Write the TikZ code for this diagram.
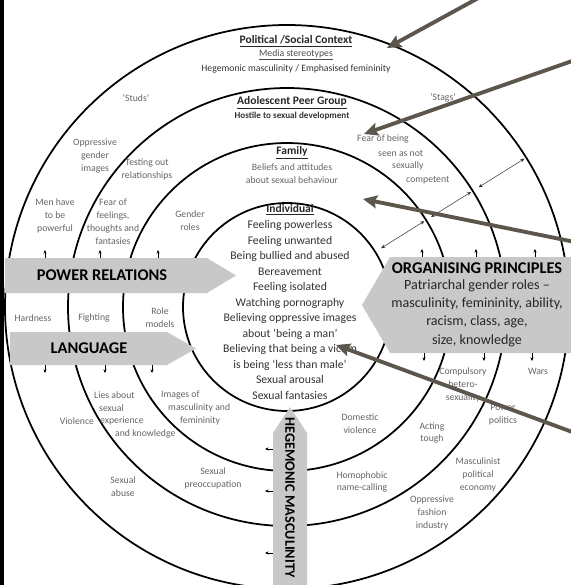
\documentclass[tikz,border=0pt]{standalone}
\usepackage{fontspec}
\setmainfont{Carlito}
\usepackage{tikz}
\usetikzlibrary{arrows.meta,calc}

\begin{document}
\begin{tikzpicture}[x=0.03cm, y=-0.03cm]

  % Define Colors
  \definecolor{bandgrey}{RGB}{200,200,200}
  \definecolor{labelgrey}{RGB}{100,100,100}
  \definecolor{listgrey}{RGB}{50,50,50}
  \definecolor{pointer}{RGB}{92,86,76}

  % Styles
  \tikzstyle{ring}=[line width=1.5pt, black]
  \tikzstyle{band}=[fill=bandgrey, draw=none]
  \tikzstyle{lbl}=[text=labelgrey, align=center, inner sep=0pt, font=\fontsize{8.3}{11}\selectfont]
  \tikzstyle{ttl}=[text=black!85, align=center, inner sep=0pt, font=\bfseries\fontsize{9.8}{12}\selectfont]
  \tikzstyle{indtxt}=[text=listgrey, align=center, inner sep=0pt, font=\fontsize{10}{13.2}\selectfont]
  \tikzstyle{bandtxt}=[text=black, align=center, inner sep=0pt, font=\bfseries\fontsize{14}{16}\selectfont]
  \tikzstyle{orgtxt}=[text=black!85, align=center, inner sep=0pt, font=\fontsize{12}{15.6}\selectfont]
  \tikzstyle{tick}=[line width=0.5pt, -{Stealth[length=3pt,width=2.6pt]}]
  \tikzstyle{gap}=[line width=0.45pt, black!80, {Stealth[length=3.5pt,width=3pt]}-{Stealth[length=3.5pt,width=3pt]}]
  \tikzstyle{pointer_path}=[line width=3.3pt, pointer, -{Stealth[length=12pt,width=11pt,inset=2pt]}]

  \useasboundingbox (0,0) rectangle (571,585);
  \fill[black] (0,0) rectangle (4,585);

  % Rings
  \coordinate (ctr) at (287,307);
  \draw[ring] (ctr) circle[radius=104];
  \draw[ring] (ctr) circle[radius=164];
  \draw[ring] (ctr) circle[radius=219];
  \draw[ring] (ctr) circle[radius=282];

  % Bands
  \fill[band] (5,258) -- (207,258) -- (236,275.5) -- (207,293) -- (5,293) -- cycle;
  \node[bandtxt] (powrel) at (102,275.5) {POWER RELATIONS};

  \fill[band] (10,332) -- (167,332) -- (196,348.5) -- (167,365) -- (10,365) -- cycle;
  \node[bandtxt] (lang) at (89,348.5) {LANGUAGE};

  \fill[band] (571,257) -- (390,257) -- (362,305) -- (390,353) -- (571,353) -- cycle;
  \node[bandtxt] (orgpr) at (477,268) {ORGANISING PRINCIPLES};
  \node[orgtxt] (patri) at (477,313) {Patriarchal gender roles --\\masculinity, femininity, ability,\\racism, class, age,\\size, knowledge};

  \fill[band] (273,595) -- (273,433) -- (290,407) -- (307,433) -- (307,595) -- cycle;
  \node[bandtxt, font=\bfseries\fontsize{12.2}{15}\selectfont, rotate=-90, anchor=west] (hegmasc) at (290,417) {HEGEMONIC MASCULINITY};

  % Ring titles
  \node[ttl] (pol) at (296,41) {\underline{Political /Social Context}};
  \node[lbl, text=black!70] (media) at (296,55) {\underline{Media stereotypes}};
  \node[lbl, text=black!80] (hegem) at (296,69) {Hegemonic masculinity / Emphasised femininity};
  \node[lbl] (studs) at (136,98) {`Studs'};
  \node[lbl] (stags) at (443,98) {`Stags'};

  \node[ttl] (adol) at (292,103) {\underline{Adolescent Peer Group}};
  \node[lbl, font=\bfseries\fontsize{7.8}{10}\selectfont, text=black!80] (hostile) at (292,116) {Hostile to sexual development};

  \node[ttl] (fam) at (292,153) {\underline{Family}};
  \node[lbl] (beliefs) at (292,174) {Beliefs and attitudes\\about sexual behaviour};

  \node[ttl] (ind) at (290,210) {\underline{Individual}};
  \node[indtxt] (indlist) at (290,310) {Feeling powerless\\Feeling unwanted\\Being bullied and abused\\Bereavement\\Feeling isolated\\Watching pornography\\Believing oppressive images\\about `being a man'\\Believing that being a victim\\is being `less than male'\\Sexual arousal\\Sexual fantasies};

  % Left labels
  \node[lbl] (oppgen) at (95,156) {Oppressive\\gender\\images};
  \node[lbl] (testing) at (147,169) {Testing out\\relationships};
  \node[lbl] (menhave) at (55,216) {Men have\\to be\\powerful};
  \node[lbl] (fearfeel) at (113,222) {Fear of\\feelings,\\thoughts and\\fantasies};
  \node[lbl] (gender) at (190,221) {Gender\\roles};
  \node[lbl] (hardness) at (33,318) {Hardness};
  \node[lbl] (fighting) at (94,318) {Fighting};
  \node[lbl] (rolemod) at (160,318) {Role\\models};
  \node[lbl, anchor=west] (lies1) at (94,395) {Lies about};
  \node[lbl, anchor=west] (lies2) at (99,408) {sexual};
  \node[lbl, anchor=west] (lies3) at (100,421) {experience};
  \node[lbl, anchor=west] (lies4) at (115,434) {and knowledge};
  \node[lbl] (violence) at (77,421) {Violence};
  \node[lbl, anchor=west] (img1) at (161,395) {Images of};
  \node[lbl, anchor=west] (img2) at (168,408) {masculinity and};
  \node[lbl, anchor=west] (img3) at (180,421) {femininity};
  \node[lbl] (sexabuse) at (123,487) {Sexual\\abuse};
  \node[lbl] (sexpre) at (213,478) {Sexual\\preoccupation};

  % Right labels
  \node[lbl, anchor=west] (fear1) at (357,139) {Fear of being};
  \node[lbl, anchor=west] (fear2) at (378,153) {seen as not};
  \node[lbl, anchor=west] (fear3) at (392,166) {sexually};
  \node[lbl, anchor=west] (fear4) at (406,180) {competent};
  \node[lbl] (compuls) at (463,385) {Compulsory\\hetero-\\sexuality};
  \node[lbl] (wars) at (538,371) {Wars};
  \node[lbl] (domestic) at (360,424) {Domestic\\violence};
  \node[lbl] (acting) at (432,433) {Acting\\tough};
  \node[lbl] (powpol) at (503,415) {Power\\politics};
  \node[lbl] (mascpol) at (478,475) {Masculinist\\political\\economy};
  \node[lbl] (homoph) at (362,482) {Homophobic\\name-calling};
  \node[lbl] (fashion) at (432,513) {Oppressive\\fashion\\industry};

  % Small ticks off the bands
  \foreach \x in {45,100,158} \draw[tick] (\x,258) -- (\x,250);
  \foreach \x in {45,105,152} \draw[tick] (\x,365) -- (\x,373);
  \foreach \x in {422,476,535} \draw[tick] (\x,257) -- (\x,249);
  \foreach \x in {424,484,532} \draw[tick] (\x,353) -- (\x,361);
  \foreach \y in {449,491,553} \draw[tick] (273,\y) -- (265,\y);

  % Gaps between rings
  \coordinate (g1a) at ($(ctr)+(-32:111)$);
  \coordinate (g1b) at ($(ctr)+(-32:162)$);
  \coordinate (g2a) at ($(ctr)+(-32:170)$);
  \coordinate (g2b) at ($(ctr)+(-32:217)$);
  \coordinate (g3a) at ($(ctr)+(-32:226)$);
  \coordinate (g3b) at ($(ctr)+(-32:280)$);
  \draw[gap] (g1a) -- (g1b);
  \draw[gap] (g2a) -- (g2b);
  \draw[gap] (g3a) -- (g3b);

  % Pointers
  \coordinate (p1from) at (482,-4);
  \coordinate (p1to) at (387,48);
  \coordinate (p2from) at (575,60);
  \coordinate (p2to) at (364,134);
  \coordinate (p3from) at (575,242);
  \coordinate (p3to) at (363,199);
  \coordinate (p4from) at (575,433);
  \coordinate (p4to) at (336,345);
  \draw[pointer_path] (p1from) -- (p1to);
  \draw[pointer_path] (p2from) -- (p2to);
  \draw[pointer_path] (p3from) -- (p3to);
  \draw[pointer_path] (p4from) -- (p4to);

\end{tikzpicture}
\end{document}
